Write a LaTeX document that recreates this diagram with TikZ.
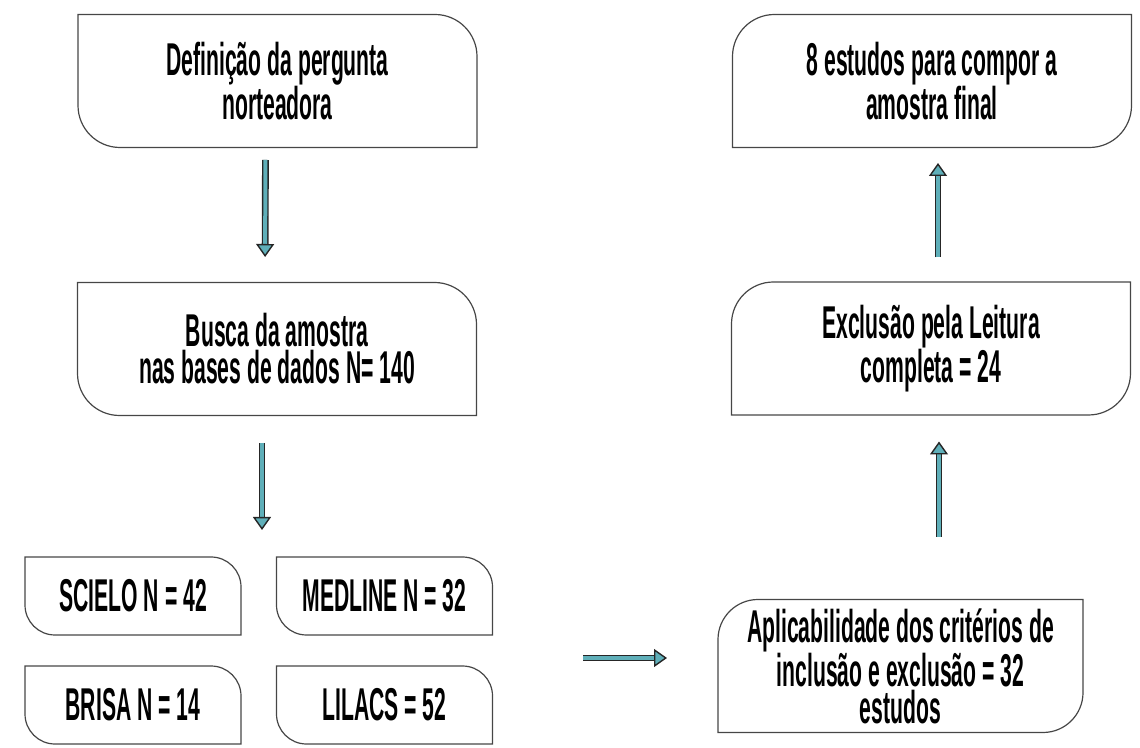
\documentclass[tikz,border=0pt]{standalone}
\usepackage{fontspec}
\usepackage{tikz}
\usetikzlibrary{positioning}
\usetikzlibrary{arrows.meta}
\newfontfamily\fluxofont{Liberation Sans}[UprightFont={* Bold}, FakeStretch=0.46]
\definecolor{tealseta}{RGB}{95,175,185}
\definecolor{linha}{RGB}{70,70,70}

\begin{document}
\begin{tikzpicture}[
    x = 1pt, y = 1pt,
    every node/.style = {font=\fluxofont\fontsize{46}{37}\selectfont, align=center, inner sep=0pt, outer sep=0pt},
      caixa/.style = {minimum width=399pt, minimum height=133pt},
      base/.style = {minimum width=216pt, minimum height=78pt},
      contorno/.style = {draw=linha, line width=1.2pt},
      seta/.style = {draw=black!85, line width=1.4pt, double=tealseta, double distance=4pt,
        -{Triangle[length=13pt, width=18pt, line width=1.4pt, fill=tealseta]}}
    ]
    \useasboundingbox (0,0) rectangle (1140,747);
    % coluna da esquerda
    \node[caixa] (pergunta) at (277.5,666) {Definição da pergunta\\norteadora};
    \node[caixa] (busca) at (277,398) {Busca da amostra\\nas bases de dados N= 140};
    \node[base] (scielo) at (133,151) {SCIELO N = 42};
    \node[base] (medline) at (384.5,151) {MEDLINE N = 32};
    \node[base] (brisa) at (133,42) {BRISA N = 14};
    \node[base] (lilacs) at (384.5,42) {LILACS = 52};
    \coordinate (bases) at (262,191);
    \coordinate (grupo) at (493,89);
    % coluna da direita
    \node[caixa, minimum width=365pt] (aplic) at (900.5,81) {Aplicabilidade dos critérios de\\inclusão e exclusão = 32\\estudos};
    \node[caixa] (exclusao) at (931,398.5) {Exclusão pela Leitura\\completa = 24};
    \node[caixa] (final) at (932,666) {8 estudos para compor a\\amostra final};

    \foreach \n/\r in {pergunta/42, busca/42, scielo/30, medline/30, brisa/30, lilacs/30}
        \draw[contorno] (\n.north west) -- ([xshift=-\r pt]\n.north east)
            arc[start angle=90, end angle=0, radius=\r pt] -- (\n.south east)
            -- ([xshift=\r pt]\n.south west)
            arc[start angle=270, end angle=180, radius=\r pt] -- cycle;
    \foreach \n/\r in {final/42, exclusao/42, aplic/40}
        \draw[contorno] ([xshift=\r pt]\n.north west) -- (\n.north east)
            -- ([yshift=\r pt]\n.south east)
            arc[start angle=0, end angle=-90, radius=\r pt] -- (\n.south west)
            -- ([yshift=-\r pt]\n.north west)
            arc[start angle=180, end angle=90, radius=\r pt] -- cycle;

    \draw[seta, shorten <=12.5pt, shorten >=25.5pt] ([xshift=-12pt]pergunta.south) -- ([xshift=-12pt]busca.north);
    \draw[seta, shorten <=27.5pt, shorten >=26pt] ([xshift=-15pt]busca.south) -- (bases);
    \draw[seta, shorten <=90pt, shorten >=51pt] (grupo) -- ([yshift=8pt]aplic.west);
    \draw[seta, shorten <=62.5pt, shorten >=26.5pt] ([xshift=38.5pt]aplic.north) -- ([xshift=8pt]exclusao.south);
    \draw[seta, shorten <=24.5pt, shorten >=15.5pt] ([xshift=7pt]exclusao.north) -- ([xshift=6pt]final.south);
\end{tikzpicture}
\end{document}
